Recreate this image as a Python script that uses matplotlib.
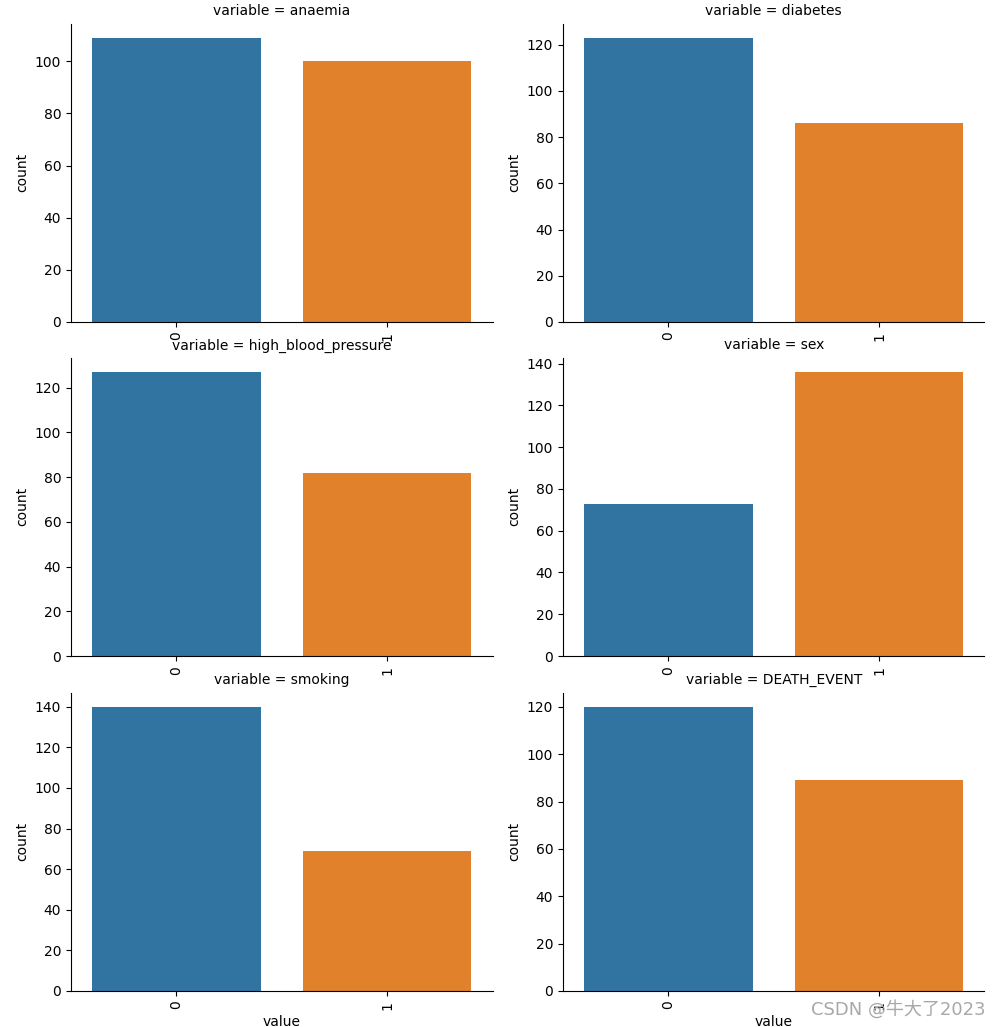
import matplotlib
matplotlib.use("Agg")
import matplotlib.pyplot as plt

variables = ["anaemia", "diabetes", "high_blood_pressure", "sex", "smoking", "DEATH_EVENT"]
categories = ["0", "1"]
counts_0 = [109, 123, 127, 73, 140, 120]
counts_1 = [100, 86, 82, 136, 69, 89]
colors = ["#3274a1", "#e1812c"]

fig = plt.figure(figsize=(10, 10.27), dpi=100)
lefts = [0.071, 0.563]
width = 0.4215
bottoms = [0.6865, 0.3612, 0.0351]
height = 0.2905

for i, var in enumerate(variables):
    r, c = divmod(i, 2)
    ax = fig.add_axes([lefts[c], bottoms[r], width, height])
    vals = [counts_0[i], counts_1[i]]
    ax.bar(range(len(categories)), vals, width=0.8, color=colors)
    ax.set_xticks(range(len(categories)))
    ax.set_xticklabels(categories, rotation=90)
    ax.set_xlim(-0.5, 1.5)
    ax.set_ylim(0, max(vals) * 1.05)
    ax.spines["top"].set_visible(False)
    ax.spines["right"].set_visible(False)
    ax.set_title(f"variable = {var}", fontsize=10, pad=6)
    ax.set_ylabel("count", fontsize=10)
    if r == 2:
        ax.set_xlabel("value", fontsize=10)
    ax.tick_params(labelsize=10)

fig.text(0.986, 0.0175, "CSDN @牛大了2023", ha="right", va="center",
         fontsize=13, color="#a8a8a8", family=["DejaVu Sans", "Noto Sans CJK SC"])

fig.savefig("out.png", dpi=100)
